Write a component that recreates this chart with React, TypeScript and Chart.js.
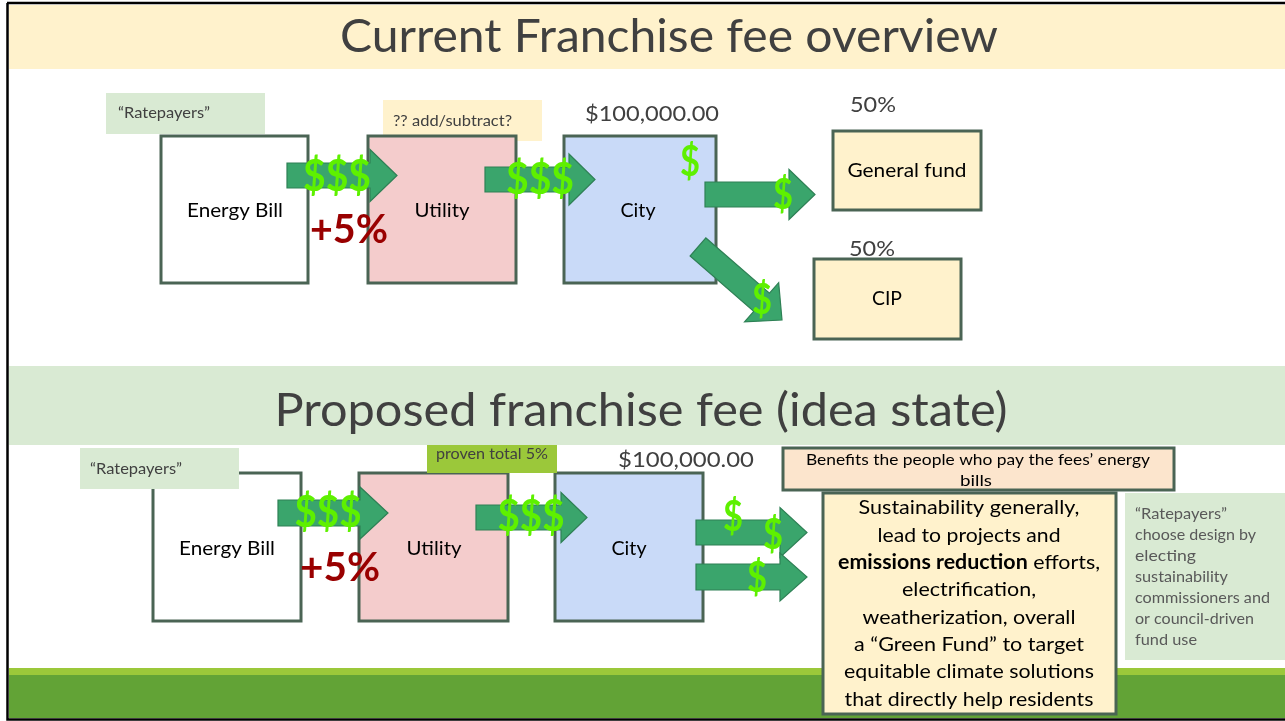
import React, { useEffect, useRef } from "react";
import { Chart, registerables } from "chart.js";

Chart.register(...registerables);

// ---------- content ----------
const TOP_TITLE = "Current Franchise fee overview";
const BOTTOM_TITLE = "Proposed franchise fee (idea state)";
const flowNodes = ["Energy Bill", "Utility", "City"];
const topSplitShares = ["50%", "50%"];
const topSplitTargets = ["General fund", "CIP"];
const cityAmount = "$100,000.00";
const feeAdd = "+5%";
const moneyMany = "$$$";
const moneyOne = "$";
const ratepayersLabel = "\u201CRatepayers\u201D";
const utilityNoteTop = "?? add/subtract?";
const utilityNoteBottom = "proven total 5%";
const benefitsLines = ["Benefits the people who pay the fees\u2019 energy", "bills"];
const greenFundLines = [
  "Sustainability generally,",
  "lead to projects and",
  "|emissions reduction| efforts,",
  "electrification,",
  "weatherization, overall",
  "a \u201CGreen Fund\u201D to target",
  "equitable climate solutions",
  "that directly help residents",
];
const ratepayerNoteLines = [
  "\u201CRatepayers\u201D",
  "choose design by",
  "electing",
  "sustainability",
  "commissioners and",
  "or council-driven",
  "fund use",
];

// ---------- styles ----------
const FONT = "Lato, 'Open Sans', sans-serif";
const C = {
  cream: "#FFF2CC",
  lightGreen: "#D9EAD3",
  peach: "#FCE5CD",
  pink: "#F4CCCC",
  blue: "#C9DAF8",
  lime: "#9BC83A",
  darkGreen: "#62A336",
  stroke: "#4A6454",
  arrow: "#3AA56C",
  arrowStroke: "#2E8055",
  money: "#5EF000",
  red: "#990000",
  title: "#404040",
  text: "#000000",
  note: "#595959",
};

const diagramPlugin = {
  id: "diagram",
  afterDatasetsDraw(chart: any) {
    const ctx: CanvasRenderingContext2D = chart.ctx;
    const xs = chart.scales.x;
    const ys = chart.scales.y;
    const X = (v: number) => xs.getPixelForValue(v);
    const Y = (v: number) => ys.getPixelForValue(v);

    const rect = (x0: number, y0: number, x1: number, y1: number, fill: string, stroke?: string, lw = 3) => {
      ctx.save();
      ctx.fillStyle = fill;
      ctx.fillRect(X(x0), Y(y0), X(x1) - X(x0), Y(y1) - Y(y0));
      if (stroke) {
        ctx.strokeStyle = stroke;
        ctx.lineWidth = lw;
        ctx.strokeRect(X(x0), Y(y0), X(x1) - X(x0), Y(y1) - Y(y0));
      }
      ctx.restore();
    };

    const text = (
      s: string,
      x: number,
      y: number,
      size: number,
      opt: { color?: string; weight?: string; align?: "left" | "center"; w?: number } = {}
    ) => {
      ctx.save();
      ctx.font = `${opt.weight || "normal"} ${size}px ${FONT}`;
      ctx.fillStyle = opt.color || C.text;
      ctx.textBaseline = "middle";
      ctx.textAlign = "left";
      const m = ctx.measureText(s).width;
      const sx = opt.w ? opt.w / m : 0.92;
      const width = m * sx;
      const left = opt.align === "left" ? X(x) : X(x) - width / 2;
      ctx.translate(left, Y(y));
      ctx.scale(sx, 1);
      ctx.fillText(s, 0, 0);
      ctx.restore();
    };

    const richText = (s: string, cx: number, y: number, size: number, w: number) => {
      const parts = s.split("|");
      ctx.save();
      let total = 0;
      const widths = parts.map((p, i) => {
        ctx.font = `${i % 2 === 1 ? "bold" : "normal"} ${size}px ${FONT}`;
        const mw = ctx.measureText(p).width;
        total += mw;
        return mw;
      });
      const sx = w / total;
      ctx.translate(X(cx) - w / 2, Y(y));
      ctx.scale(sx, 1);
      ctx.textBaseline = "middle";
      ctx.fillStyle = C.text;
      let off = 0;
      parts.forEach((p, i) => {
        ctx.font = `${i % 2 === 1 ? "bold" : "normal"} ${size}px ${FONT}`;
        ctx.fillText(p, off, 0);
        off += widths[i];
      });
      ctx.restore();
    };

    const arrow = (x0: number, y0: number, x1: number, y1: number, bodyW: number, headW: number, headL: number) => {
      const px0 = X(x0), py0 = Y(y0), px1 = X(x1), py1 = Y(y1);
      const dx = px1 - px0, dy = py1 - py0;
      const len = Math.hypot(dx, dy);
      const ux = dx / len, uy = dy / len;
      const nx = -uy, ny = ux;
      const bx = px1 - ux * headL, by = py1 - uy * headL;
      const pts = [
        [px0 + nx * bodyW / 2, py0 + ny * bodyW / 2],
        [bx + nx * bodyW / 2, by + ny * bodyW / 2],
        [bx + nx * headW / 2, by + ny * headW / 2],
        [px1, py1],
        [bx - nx * headW / 2, by - ny * headW / 2],
        [bx - nx * bodyW / 2, by - ny * bodyW / 2],
        [px0 - nx * bodyW / 2, py0 - ny * bodyW / 2],
      ];
      ctx.save();
      ctx.beginPath();
      pts.forEach(([a, b], i) => (i ? ctx.lineTo(a, b) : ctx.moveTo(a, b)));
      ctx.closePath();
      ctx.fillStyle = C.arrow;
      ctx.fill();
      ctx.strokeStyle = C.arrowStroke;
      ctx.lineWidth = 1.2;
      ctx.stroke();
      ctx.restore();
    };

    // ----- background bands & frame -----
    rect(0, 0, 1285, 721, "#FFFFFF");
    rect(9, 5, 1285, 69, C.cream);
    rect(9, 366, 1285, 445, C.lightGreen);
    rect(9, 668, 1285, 675, C.lime);
    rect(9, 675, 1285, 718, C.darkGreen);
    ctx.save();
    ctx.strokeStyle = "#000";
    ctx.lineWidth = 2.5;
    ctx.beginPath();
    ctx.moveTo(X(7), Y(3));
    ctx.lineTo(X(1285), Y(3));
    ctx.moveTo(X(7.5), Y(3));
    ctx.lineTo(X(7.5), Y(719.5));
    ctx.lineTo(X(1285), Y(719.5));
    ctx.stroke();
    ctx.restore();

    // ----- titles -----
    text(TOP_TITLE, 669, 37, 46, { color: C.title, w: 658 });
    text(BOTTOM_TITLE, 641, 411, 46, { color: C.title, w: 733 });

    // ===== TOP SECTION =====
    rect(106, 93, 265, 134, C.lightGreen);
    text(ratepayersLabel, 118, 113, 15, { color: C.title, align: "left", w: 92 });
    rect(383, 100, 542, 141, C.cream);
    text(utilityNoteTop, 393, 121, 15, { color: C.title, align: "left", w: 119 });

    rect(161, 136, 308, 283, "#FFFFFF", C.stroke);
    rect(368, 136, 516, 283, C.pink, C.stroke);
    rect(564, 136, 716, 283, C.blue, C.stroke);
    text(flowNodes[0], 235, 211, 20, { w: 96 });
    text(flowNodes[1], 442, 211, 20, { w: 55 });
    text(flowNodes[2], 638, 211, 20, { w: 35 });
    text(cityAmount, 652, 114, 22, { color: C.title, w: 134 });

    arrow(287, 175.5, 397, 175.5, 25, 52, 27);
    arrow(485, 179.5, 595, 179.5, 25, 51, 26);
    arrow(705, 194.5, 815, 194.5, 25, 50, 26);
    arrow(698, 247, 782, 320, 24, 52, 27);

    text(moneyMany, 337, 177, 44, { color: C.money, weight: "bold", w: 68 });
    text(moneyMany, 540, 180, 44, { color: C.money, weight: "bold", w: 68 });
    text(moneyOne, 690, 162, 42, { color: C.money, weight: "bold", w: 20 });
    text(moneyOne, 783, 195, 42, { color: C.money, weight: "bold", w: 20 });
    text(moneyOne, 762, 300, 42, { color: C.money, weight: "bold", w: 20 });
    text(feeAdd, 349, 230, 41, { color: C.red, weight: "bold", w: 78 });

    text(topSplitShares[0], 873, 105, 21, { color: C.title, w: 46 });
    text(topSplitShares[1], 872, 249, 21, { color: C.title, w: 46 });
    rect(833, 131, 981, 210, C.cream, C.stroke);
    rect(814, 259, 961, 339, C.cream, C.stroke);
    text(topSplitTargets[0], 907, 171, 20, { w: 119 });
    text(topSplitTargets[1], 887, 299, 20, { w: 30 });

    // ===== BOTTOM SECTION =====
    rect(153, 473, 301, 621, "#FFFFFF", C.stroke);
    rect(359, 473, 508, 621, C.pink, C.stroke);
    rect(555, 473, 703, 621, C.blue, C.stroke);
    rect(80, 448, 239, 489, C.lightGreen);
    text(ratepayersLabel, 90, 469, 15, { color: C.title, align: "left", w: 92 });
    rect(427, 445, 557, 473, C.lime);
    text(utilityNoteBottom, 436, 454, 15, { color: C.title, align: "left", w: 112 });
    text(cityAmount, 686, 460, 22, { color: C.title, w: 136 });

    text(flowNodes[0], 227, 549, 20, { w: 96 });
    text(flowNodes[1], 434, 549, 20, { w: 55 });
    text(flowNodes[2], 629, 549, 20, { w: 35 });

    arrow(278, 513, 388, 513, 26, 52, 28);
    arrow(476, 517.5, 587, 517.5, 25, 50, 26);
    arrow(696, 532.5, 807, 532.5, 25, 50, 27);
    arrow(696, 577, 807, 577, 26, 48, 27);

    text(moneyMany, 328, 513, 44, { color: C.money, weight: "bold", w: 67 });
    text(moneyMany, 531, 517, 44, { color: C.money, weight: "bold", w: 67 });
    text(moneyOne, 733, 517, 42, { color: C.money, weight: "bold", w: 20 });
    text(moneyOne, 773, 535, 42, { color: C.money, weight: "bold", w: 20 });
    text(moneyOne, 757, 578, 42, { color: C.money, weight: "bold", w: 20 });
    text(feeAdd, 340, 568, 41, { color: C.red, weight: "bold", w: 80 });

    rect(783, 448, 1174, 490, C.peach, C.stroke);
    text(benefitsLines[0], 978, 460, 16, { w: 344 });
    text(benefitsLines[1], 976, 481, 16, { w: 32 });

    rect(823, 493, 1116, 714, C.cream, C.stroke);
    const gfW = [221, 183, 262, 134, 213, 230, 250, 249];
    greenFundLines.forEach((ln, i) => {
      const y = 508 + i * 27.3;
      if (ln.includes("|")) richText(ln, 969, y, 20, gfW[i]);
      else text(ln, 969, y, 20, { w: gfW[i] });
    });

    rect(1125, 493, 1285, 660, C.lightGreen);
    const rpW = [92, 121, 61, 93, 135, 119, 62];
    ratepayerNoteLines.forEach((ln, i) => {
      text(ln, 1135, 514 + i * 20.9, 16, { color: C.note, align: "left", w: rpW[i] });
    });
  },
};

export default function App() {
  const ref = useRef<HTMLCanvasElement | null>(null);
  useEffect(() => {
    if (!ref.current) return;
    const chart = new Chart(ref.current, {
      type: "scatter",
      data: { datasets: [{ data: [], pointRadius: 0 }] },
      options: {
        animation: false,
        responsive: false,
        maintainAspectRatio: false,
        layout: { padding: 0 },
        events: [],
        plugins: { legend: { display: false }, tooltip: { enabled: false } },
        scales: {
          x: { type: "linear", min: 0, max: 1285, display: false },
          y: { type: "linear", min: 0, max: 721, reverse: true, display: false },
        },
      },
      plugins: [diagramPlugin],
    });
    return () => chart.destroy();
  }, []);
  return (
    <div style={{ position: "fixed", left: 0, top: 0, width: 1285, height: 721, background: "#fff" }}>
      <canvas ref={ref} width={1285} height={721} style={{ width: 1285, height: 721, display: "block" }} />
    </div>
  );
}
